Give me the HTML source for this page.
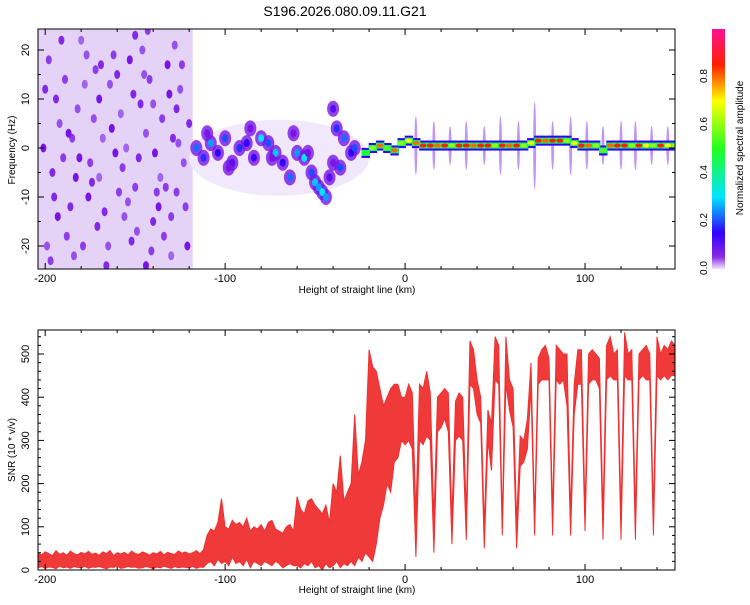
<!DOCTYPE html>
<html><head><meta charset="utf-8"><style>
body{margin:0;background:#fff;font-family:"Liberation Sans",sans-serif}
svg text{font-family:"Liberation Sans",sans-serif;fill:#000}
</style></head><body>
<svg id="c" width="750" height="600" xmlns="http://www.w3.org/2000/svg">
<text x="345" y="16" font-size="14" text-anchor="middle">S196.2026.080.09.11.G21</text>
<defs>
<linearGradient id="cb" x1="0" y1="1" x2="0" y2="0">
<stop offset="0" stop-color="#f2e6ff"/><stop offset="0.05" stop-color="#8a2be2"/><stop offset="0.15" stop-color="#3000ff"/><stop offset="0.3" stop-color="#00e5ff"/><stop offset="0.5" stop-color="#20ff20"/><stop offset="0.7" stop-color="#ffff00"/><stop offset="0.85" stop-color="#ff2000"/><stop offset="1" stop-color="#ff1090"/>
</linearGradient>
<clipPath id="clipTop"><rect x="38" y="29" width="637" height="240"/></clipPath>
<clipPath id="clipBot"><rect x="38" y="330" width="637" height="240"/></clipPath>
</defs>
<g id="gtop" clip-path="url(#clipTop)"></g>
<g id="gbot" clip-path="url(#clipBot)"></g>
<g id="axes"></g>
<rect x="712" y="29" width="13" height="240" fill="url(#cb)"/>
<text transform="translate(743,148) rotate(-90)" font-size="10" text-anchor="middle">Normalized spectral amplitude</text>
<text transform="translate(15,150) rotate(-90)" font-size="10" text-anchor="middle">Frequency (Hz)</text>
<text x="357" y="293" font-size="10" text-anchor="middle">Height of straight line (km)</text>
<text transform="translate(15,450) rotate(-90)" font-size="10" text-anchor="middle">SNR (10 * v/v)</text>
<text x="357" y="593" font-size="10" text-anchor="middle">Height of straight line (km)</text>
</svg>
<script>
const xTicks=[-200,-100,0,100];
const freqTicks=[-20,-10,0,10,20];
const snrTicks=[0,100,200,300,400,500];
const cbTicks=[0.0,0.2,0.4,0.6,0.8];
const snrStart=-204, snrStep=2;
const snrHigh=[40,35,42,38,33,45,36,40,34,44,38,35,41,37,43,36,39,34,42,38,45,33,40,37,41,35,44,38,36,42,39,34,40,37,43,35,41,38,36,44,39,42,37,40,45,38,47,
80,95,90,110,165,100,95,115,105,110,100,120,90,100,95,105,90,110,115,95,90,85,100,105,90,
170,140,130,160,165,150,140,130,150,110,200,180,265,160,180,200,360,220,250,300,
510,470,460,420,380,400,420,430,430,400,
400,430,410,130,430,420,460,410,120,400,410,420,410,120,390,410,400,130,530,510,440,400,100,370,340,540,520,110,540,440,420,110,310,300,350,480,120,490,510,520,490,130,520,510,500,500,130,430,510,510,140,500,510,500,490,130,520,540,500,510,130,550,500,510,130,500,510,520,500,130,540,500,520,510,530,520];
const snrLow=[5,8,4,7,6,3,9,5,7,4,8,6,5,9,4,7,6,8,5,3,7,6,9,4,5,8,6,7,4,5,8,6,3,7,5,9,6,4,8,5,7,6,5,8,4,7,6,
15,20,10,25,15,20,10,30,15,20,10,25,5,20,15,10,20,15,10,20,15,5,10,15,10,
10,5,15,10,20,5,10,0,15,5,10,20,5,15,10,20,10,30,20,40,
30,20,60,120,150,200,180,250,260,300,
290,300,280,30,300,290,310,300,40,320,330,350,320,60,300,310,300,70,430,420,360,340,50,300,230,440,430,80,430,370,330,50,240,250,280,420,80,430,440,440,440,80,440,430,440,380,80,360,430,430,90,430,440,440,420,70,440,450,440,440,70,450,440,440,70,440,450,440,440,80,450,440,450,440,450,450];
const noiseX=[-198,-192,-186,-180,-175,-170,-165,-160,-155,-150,-146,-140,-135,-130,-125,-196,-188,-182,-176,-168,-162,-156,-148,-142,-136,-128,-122,-194,-184,-172,-158,-152,-144,-138,-132,-126,-190,-178,-166,-154,-134,-120,-199,-185,-170,-150,-140,-130,
-201,-195,-189,-183,-177,-171,-163,-157,-151,-145,-139,-133,-127,-121,-197,-191,-181,-173,-167,-159,-153,-147,-141,-131,-123,-200,-187,-179,-169,-161,-149,-143,-137,-129,-124,-193,-174,-164,-144,-127];
const noiseF=[18,5,-12,22,-3,10,-20,15,0,-8,20,-15,6,-22,12,-5,-18,8,-10,2,19,-14,-2,14,-6,21,-12,10,-22,16,7,-19,3,-9,17,1,-2,13,-24,-11,-18,5,-20,2,-6,23,9,-14,
0,-10,14,-6,19,-16,4,-4,11,15,-1,-8,8,-20,-23,22,-2,6,-13,-9,18,9,-21,11,-3,12,3,-20,17,-1,-17,24,-12,2,17,-14,-7,13,-24,-9];
const noiseA=[0.08,0.07,0.09,0.06,0.08,0.1,0.07,0.09,0.06,0.08,0.07,0.09,0.08,0.06,0.07,0.09,0.08,0.07,0.1,0.06,0.08,0.07,0.09,0.08,0.06,0.07,0.08,0.09,0.07,0.08,0.06,0.09,0.07,0.08,0.1,0.07,0.08,0.06,0.09,0.07,0.08,0.09,0.07,0.08,0.06,0.09,0.07,0.08,
0.1,0.09,0.08,0.1,0.07,0.09,0.1,0.08,0.09,0.07,0.1,0.08,0.09,0.1,0.08,0.09,0.1,0.07,0.09,0.08,0.1,0.09,0.08,0.1,0.07,0.09,0.1,0.08,0.09,0.1,0.07,0.08,0.1,0.09,0.08,0.1,0.09,0.07,0.1,0.08];
const clusterX=[-116,-112,-108,-104,-100,-96,-92,-88,-84,-80,-76,-72,-68,-64,-60,-56,-52,-50,-48,-46,-44,-42,-40,-38,-36,-34,-30,-28,-110,-98,-86,-74,-62,-54,-40];
const clusterF=[0,-2,1,-1,2,-3,0,1,-2,2,1,-1,-3,-6,-1,-2,-5,-7,-8,-9,-10,-6,8,4,-4,2,-1,0,3,-4,4,-2,3,-1,-3];
const clusterA=[0.22,0.18,0.25,0.15,0.2,0.12,0.18,0.15,0.14,0.3,0.2,0.28,0.15,0.22,0.25,0.3,0.2,0.28,0.25,0.3,0.25,0.12,0.12,0.18,0.2,0.22,0.15,0.2,0.1,0.1,0.1,0.1,0.1,0.1,0.1];
const ridgeX=[-22,-18,-14,-10,-6,-2,2,6,10,14,18,22,26,30,34,38,42,46,50,54,58,62,66,70,74,78,82,86,90,94,98,102,106,110,114,118,122,126,130,134,138,142,146,150];
const ridgeF=[-1,0,0.5,0,-0.5,1,1.5,1,0.5,0.5,0.5,0.5,0.5,0.5,0.5,0.5,0.5,0.5,0.5,0.5,0.5,0.5,0.5,1,1.5,1.5,1.5,1.5,1.5,1,0.5,0.5,0.5,-0.5,0.5,0.5,0.5,0.5,0.5,0.5,0.5,0.5,0.5,0.5];
const ridgeA=[0.5,0.6,0.8,0.55,0.8,0.6,0.7,0.8,0.85,0.85,0.8,0.85,0.6,0.85,0.85,0.8,0.85,0.85,0.6,0.85,0.8,0.85,0.6,0.7,0.85,0.8,0.85,0.85,0.6,0.7,0.85,0.8,0.6,0.55,0.8,0.85,0.85,0.6,0.85,0.7,0.6,0.85,0.7,0.6];
const spikeX=[6,16,25,34,44,53,63,72,82,92,101,110,120,128,137,146];
const spikeLen=[6,5,4,5,4,6,5,9,5,6,5,4,5,5,4,4];

const NS="http://www.w3.org/2000/svg";
const X0=38,X1=675,D0=-204,D1=150;
const sx=v=>X0+(v-D0)/(D1-D0)*(X1-X0);
const fy=f=>148-f*4.9;
const sy=s=>570-s*0.432;
function mk(tag,attrs,parent){const e=document.createElementNS(NS,tag);for(const k in attrs)e.setAttribute(k,attrs[k]);parent.appendChild(e);return e;}
function col(a){
 const st=[[0,[240,228,255]],[0.05,[170,120,240]],[0.1,[120,20,230]],[0.15,[48,0,255]],[0.3,[0,229,255]],[0.5,[32,255,32]],[0.7,[255,255,0]],[0.85,[255,32,0]],[1,[255,16,144]]];
 for(let i=1;i<st.length;i++){if(a<=st[i][0]){const t=(a-st[i-1][0])/(st[i][0]-st[i-1][0]);const c=st[i-1][1].map((v,j)=>Math.round(v+(st[i][1][j]-v)*t));return `rgb(${c})`;}}
 return 'rgb(255,16,144)';
}
const gTop=document.getElementById('gtop'),gBot=document.getElementById('gbot'),gAx=document.getElementById('axes');
const haze=mk('rect',{x:sx(-204),y:29,width:sx(-118)-sx(-204),height:240,fill:'#e4d3f7'},gTop);


const haze2=mk('ellipse',{cx:sx(-70),cy:fy(-2),rx:90,ry:38,fill:'#f1e8fb'},gTop);


for(let i=0;i<noiseX.length;i++){
 const e=mk('ellipse',{cx:sx(noiseX[i]),cy:fy(noiseF[i]),rx:3,ry:4.5,fill:col(noiseA[i])},gTop);
 
 
}
for(let i=0;i<clusterX.length;i++){
 const e=mk('ellipse',{cx:sx(clusterX[i]),cy:fy(clusterF[i]),rx:6,ry:8,fill:col(0.1),opacity:0.8},gTop);
 
 
}
for(let i=0;i<clusterX.length;i++){
 const e2=mk('ellipse',{cx:sx(clusterX[i]),cy:fy(clusterF[i]),rx:3,ry:4,fill:col(clusterA[i])},gTop);
 
 
}
for(let i=0;i<spikeX.length;i++){
 const e=mk('ellipse',{cx:sx(spikeX[i]),cy:fy(0.5),rx:1.5,ry:spikeLen[i]*4.9,fill:col(0.1),opacity:0.45},gTop);
 
 
}
for(let i=0;i<ridgeX.length;i++){
 const e=mk('rect',{x:sx(ridgeX[i])-4,y:fy(ridgeF[i])-5,width:8.5,height:10,fill:col(0.15)},gTop);
 
 
}
for(let i=0;i<ridgeX.length;i++){
 const e=mk('rect',{x:sx(ridgeX[i])-4,y:fy(ridgeF[i])-3,width:8.5,height:6,fill:col(0.45)},gTop);
 
 
 const d=mk('ellipse',{cx:sx(ridgeX[i]),cy:fy(ridgeF[i]),rx:3.5,ry:2,fill:col(ridgeA[i])},gTop);
 
 
}
const hiPts=snrHigh.map((v,i)=>`${sx(snrStart+i*snrStep).toFixed(1)},${sy(v).toFixed(1)}`);
const loPts=snrLow.map((v,i)=>`${sx(snrStart+i*snrStep).toFixed(1)},${sy(v).toFixed(1)}`).reverse();
const band=mk('polygon',{points:hiPts.concat(loPts).join(' '),fill:'#f03a3a',stroke:'#f03030','stroke-width':1},gBot);


function frame(y0,y1,name){
 const r=mk('rect',{x:X0,y:y0,width:X1-X0,height:y1-y0,fill:'none',stroke:'#000','stroke-width':1},gAx);
 
 
 for(let v=-200;v<=150;v+=20){const x=sx(v),L=(v%100===0)?6:3;
  mk('line',{x1:x,y1:y0,x2:x,y2:y0+L,stroke:'#000'},gAx);mk('line',{x1:x,y1:y1,x2:x,y2:y1-L,stroke:'#000'},gAx);}
 for(const v of xTicks){const t=mk('text',{x:sx(v),y:y1+13,'font-size':11,'text-anchor':'middle'},gAx);t.textContent=v;
  
  }
}
frame(29,269,'top-plot-frame');frame(330,570,'bottom-plot-frame');
for(let f=-20;f<=20;f+=5){const y=fy(f),L=f%10===0?6:3;mk('line',{x1:X0,y1:y,x2:X0+L,y2:y,stroke:'#000'},gAx);mk('line',{x1:X1,y1:y,x2:X1-L,y2:y,stroke:'#000'},gAx);}
for(const f of freqTicks){const t=mk('text',{transform:`translate(29,${fy(f)}) rotate(-90)`,'font-size':11,'text-anchor':'middle'},gAx);t.textContent=f;
 
 }
for(let s=0;s<=540;s+=20){const y=sy(s),L=s%100===0?6:3;mk('line',{x1:X0,y1:y,x2:X0+L,y2:y,stroke:'#000'},gAx);mk('line',{x1:X1,y1:y,x2:X1-L,y2:y,stroke:'#000'},gAx);}
for(const s of snrTicks){const t=mk('text',{transform:`translate(29,${sy(s)}) rotate(-90)`,'font-size':11,'text-anchor':'middle'},gAx);t.textContent=s;
 
 }
for(const c of cbTicks){const y=268-c*240;const t=mk('text',{transform:`translate(707,${y}) rotate(-90)`,'font-size':10,'text-anchor':'middle'},gAx);t.textContent=c.toFixed(1);
 
 }
</script>
</body></html>
